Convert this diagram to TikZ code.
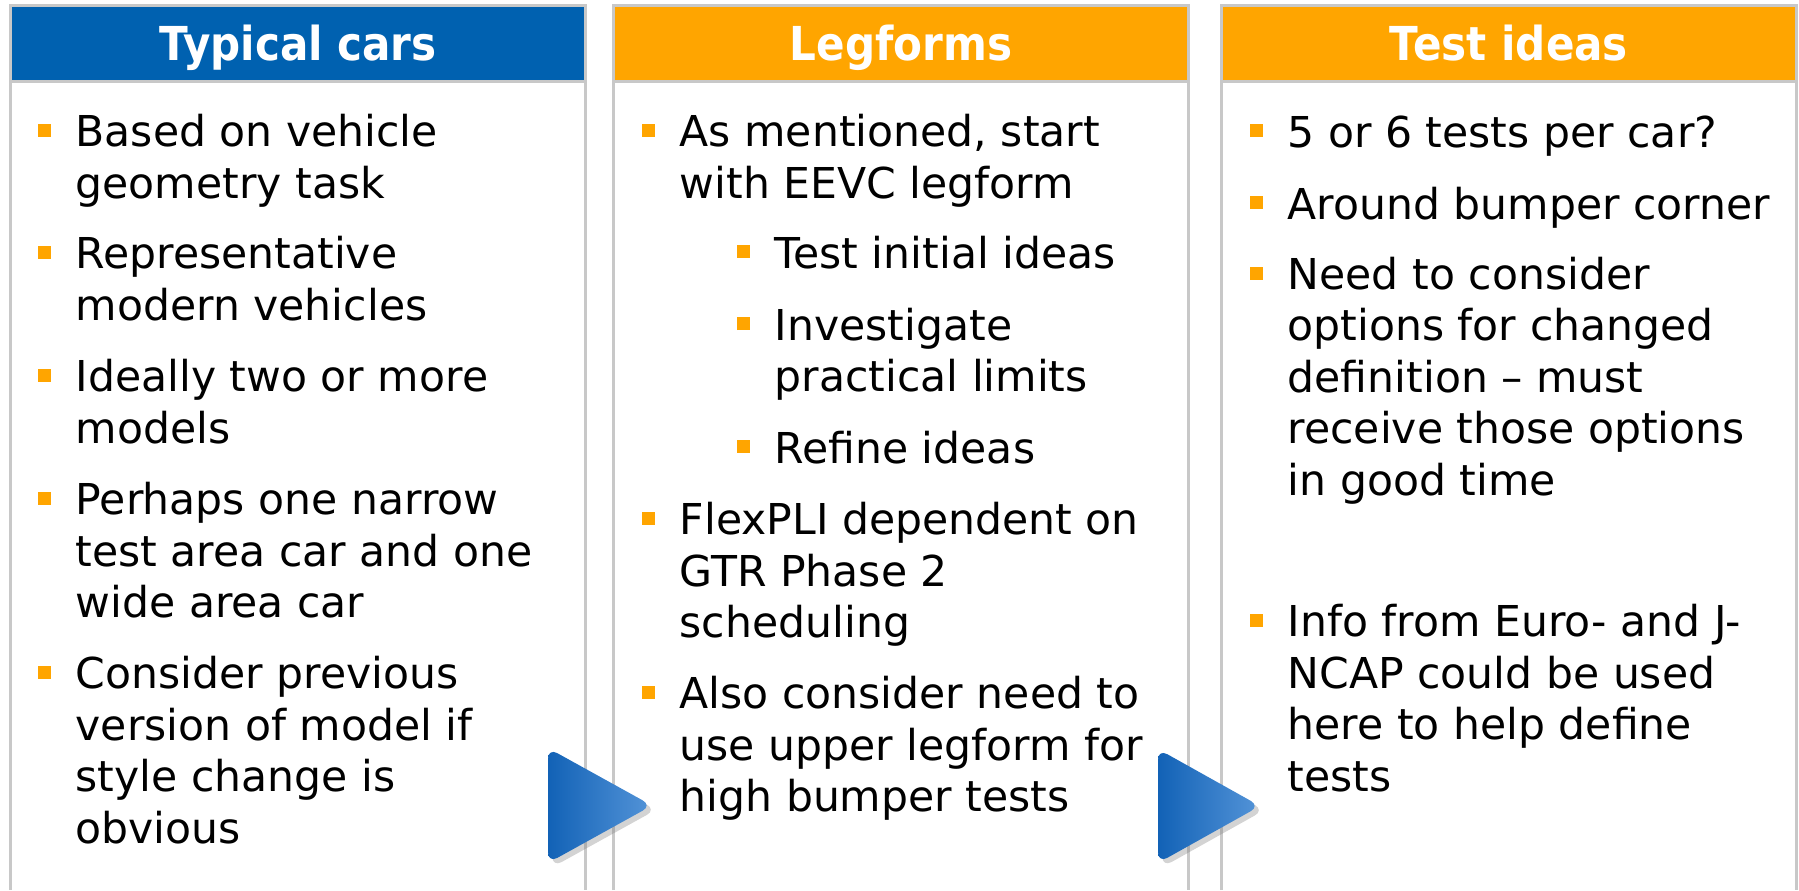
\documentclass[tikz,border=0pt]{standalone}
\usepackage{fontspec}
\setmainfont{DejaVu Sans}
\newfontfamily\headfont{DejaVu Sans}[FakeStretch=0.9]
\usetikzlibrary{shadows}

\definecolor{hdrblue}{RGB}{0,97,176}
\definecolor{hdrorange}{RGB}{255,165,0}
\definecolor{cellgray}{RGB}{200,200,200}
\definecolor{arrdark}{RGB}{18,98,182}
\definecolor{arrlight}{RGB}{84,148,216}

\newcommand{\sqbul}{\llap{\textcolor{hdrorange}{\rule[2.85pt]{3.7pt}{3.7pt}}\hspace{7.1pt}}}

\begin{document}
\begin{tikzpicture}[x=0.01cm,y=-0.01cm,
    cell/.style={cellgray,line width=0.85pt},
    head/.style={font=\headfont\bfseries\fontsize{13.3pt}{16pt}\selectfont,text=white,anchor=base,inner sep=0pt},
    item/.style={font=\fontsize{12.1pt}{14.6pt}\selectfont,align=left,anchor=base west,inner sep=0pt},
    arrowtri/.style={rounded corners=3pt,left color=arrdark,right color=arrlight,
      drop shadow={shadow xshift=1.2pt,shadow yshift=-1.2pt,opacity=0.35}}]
    \useasboundingbox (0,0) rectangle (1799,890);

    % Spalten
    \foreach \L/\hc in {10.5/hdrblue, 613.5/hdrorange, 1221.5/hdrorange} {
      \fill[\hc] (\L+1.5,7) rectangle (\L+573.5,80);
      \draw[cell] (\L,890) -- (\L,5.5) -- (\L+575,5.5) -- (\L+575,890);
      \draw[cell] (\L,81.5) -- (\L+575,81.5);
    }

    % Titel
    \node[head] (hcars) at (298,60) {Typical cars};
    \node[head] (hlegs) at (901,60) {Legforms};
    \node[head] (htests) at (1509,60) {Test ideas};

    % Typical cars (y = Grundlinie der letzten Zeile)
    \node[item] (cars1) at (75,198) {\sqbul Based on vehicle\\geometry task};
    \node[item] (cars2) at (75,320) {\sqbul Representative\\modern vehicles};
    \node[item] (cars3) at (75,443) {\sqbul Ideally two or more\\models};
    \node[item] (cars4) at (75,617.5) {\sqbul Perhaps one narrow\\test area car and one\\wide area car};
    \node[item] (cars5) at (75,843) {\sqbul Consider previous\\version of model if\\style change is\\obvious};

    % Legforms
    \node[item] (legs1) at (679,198) {\sqbul As mentioned, start\\with EEVC legform};
    \node[item] (legs1a) at (774,268) {\sqbul Test initial ideas};
    \node[item] (legs1b) at (774,391.5) {\sqbul Investigate\\practical limits};
    \node[item] (legs1c) at (774,463) {\sqbul Refine ideas};
    \node[item] (legs2) at (679,637.5) {\sqbul FlexPLI dependent on\\GTR Phase 2\\scheduling};
    \node[item] (legs3) at (679,811.5) {\sqbul Also consider need to\\use upper legform for\\high bumper tests};

    % Test ideas
    \node[item] (tests1) at (1287,147) {\sqbul 5 or 6 tests per car?};
    \node[item] (tests2) at (1287,219) {\sqbul Around bumper corner};
    \node[item] (tests3) at (1287,495) {\sqbul Need to consider\\options for changed\\definition -- must\\receive those options\\in good time};
    \node[item] (tests4) at (1287,791) {\sqbul Info from Euro- and J-\\NCAP could be used\\here to help define\\tests};

    % Pfeile
    \path[arrowtri] (548,748) -- (652,805.5) -- (548,863) -- cycle;
    \path[arrowtri] (1158,749) -- (1260,806) -- (1158,863) -- cycle;
\end{tikzpicture}
\end{document}
